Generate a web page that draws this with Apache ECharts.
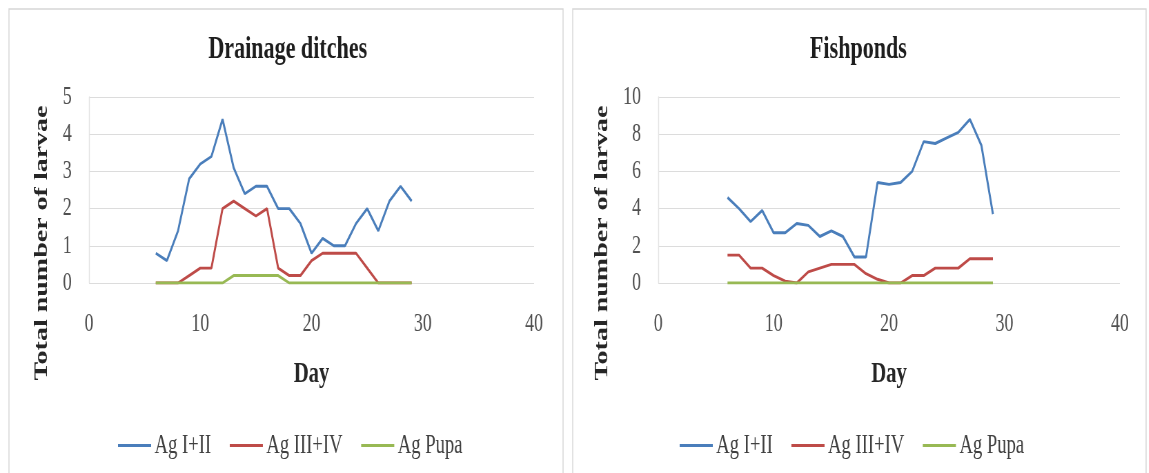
<!DOCTYPE html>
<html>
<head>
<meta charset="utf-8">
<script src="https://cdn.jsdelivr.net/npm/echarts@6/dist/echarts.min.js"></script>
<style>
  html, body { margin: 0; padding: 0; background: #ffffff; overflow: hidden; }
  #chart { width: 1665px; height: 473px; transform: scaleX(0.69); transform-origin: 0 0; }
</style>
</head>
<body>
<div id="chart"></div>
<script>
// Sampling days shared by both habitats
const days = [6, 7, 8, 9, 10, 11, 12, 13, 14, 15, 16, 17, 18, 19, 20, 21, 22, 23, 24, 25, 26, 27, 28, 29];

// Drainage ditches
const ditchEarly = [0.8, 0.6, 1.4, 2.8, 3.2, 3.4, 4.4, 3.1, 2.4, 2.6, 2.6, 2.0, 2.0, 1.6, 0.8, 1.2, 1.0, 1.0, 1.6, 2.0, 1.4, 2.2, 2.6, 2.2];
const ditchLate  = [0, 0, 0, 0.2, 0.4, 0.4, 2.0, 2.2, 2.0, 1.8, 2.0, 0.4, 0.2, 0.2, 0.6, 0.8, 0.8, 0.8, 0.8, 0.4, 0, 0, 0, 0];
const ditchPupa  = [0, 0, 0, 0, 0, 0, 0, 0.2, 0.2, 0.2, 0.2, 0.2, 0, 0, 0, 0, 0, 0, 0, 0, 0, 0, 0, 0];

// Fishponds
const pondEarly = [4.6, 4.0, 3.3, 3.9, 2.7, 2.7, 3.2, 3.1, 2.5, 2.8, 2.5, 1.4, 1.4, 5.4, 5.3, 5.4, 6.0, 7.6, 7.5, 7.8, 8.1, 8.8, 7.4, 3.7];
const pondLate  = [1.5, 1.5, 0.8, 0.8, 0.4, 0.1, 0, 0.6, 0.8, 1.0, 1.0, 1.0, 0.5, 0.2, 0, 0, 0.4, 0.4, 0.8, 0.8, 0.8, 1.3, 1.3, 1.3];
const pondPupa  = [0, 0, 0, 0, 0, 0, 0, 0, 0, 0, 0, 0, 0, 0, 0, 0, 0, 0, 0, 0, 0, 0, 0, 0];

const seriesNames = ['Ag I+II', 'Ag III+IV', 'Ag Pupa'];
const panelTitles = ['Drainage ditches', 'Fishponds'];
const xRange = { min: 0, max: 40, interval: 10 };
const ditchRange = { min: 0, max: 5, interval: 1 };
const pondRange = { min: 0, max: 10, interval: 2 };

const COLORS = ['#4a7ebb', '#be4b48', '#98b954'];
const FONT = '"Liberation Serif", "Times New Roman", serif';

function pairs(xs, ys) { return xs.map((x, i) => [x, ys[i]]); }

function lineSeries(name, idx, values, color) {
  return {
    name: name, type: 'line', xAxisIndex: idx, yAxisIndex: idx,
    data: pairs(days, values), symbol: 'none', showSymbol: false,
    lineStyle: { width: 2.9, color: color }, itemStyle: { color: color },
    emphasis: { disabled: true }
  };
}

function xAxis(idx) {
  return {
    type: 'value', gridIndex: idx, min: xRange.min, max: xRange.max, interval: xRange.interval,
    name: 'Day', nameLocation: 'middle', nameGap: 76,
    nameTextStyle: { fontFamily: FONT, fontSize: 30, fontWeight: 'bold', color: '#262626' },
    axisLine: { show: false }, axisTick: { show: false }, splitLine: { show: false },
    axisLabel: { fontFamily: FONT, fontSize: 26, color: '#505050', margin: 28 }
  };
}

function yAxis(idx, range, gap) {
  return {
    type: 'value', gridIndex: idx, min: range.min, max: range.max, interval: range.interval,
    name: 'Total number of larvae', nameLocation: 'middle', nameGap: gap,
    // right padding pushes the rotated title down, below the plot's middle
    nameTextStyle: { fontFamily: FONT, fontSize: 28, fontWeight: 'bold', color: '#262626',
                     padding: [0, 106, 0, 0] },
    axisLine: { show: true, lineStyle: { color: '#e3e3e3', width: 1.4 } },
    axisTick: { show: false },
    splitLine: { show: true, lineStyle: { color: '#dcdcdc', width: 1.2 } },
    axisLabel: { fontFamily: FONT, fontSize: 26, color: '#505050', margin: 25 }
  };
}

function legend(left) {
  return {
    data: seriesNames, left: left, top: 427, icon: 'rect', itemWidth: 48, itemHeight: 3,
    itemGap: 27, selectedMode: false,
    textStyle: { fontFamily: FONT, fontSize: 27, color: '#404040' }
  };
}

const chart = echarts.init(document.getElementById('chart'), null, { renderer: 'canvas' });
chart.setOption({
  animation: false,
  backgroundColor: '#ffffff',
  title: [
    { text: panelTitles[0], left: 412, top: 29, textAlign: 'center',
      textStyle: { fontFamily: FONT, fontSize: 32, fontWeight: 'bold', color: '#1e1e1e' } },
    { text: panelTitles[1], left: 1239, top: 29, textAlign: 'center',
      textStyle: { fontFamily: FONT, fontSize: 32, fontWeight: 'bold', color: '#1e1e1e' } }
  ],
  graphic: [
    { type: 'rect', shape: { x: 13, y: 9, width: 803, height: 480 }, silent: true,
      style: { fill: 'none', stroke: '#d6d6d6', lineWidth: 1.4 } },
    { type: 'rect', shape: { x: 830, y: 9, width: 831, height: 480 }, silent: true,
      style: { fill: 'none', stroke: '#d6d6d6', lineWidth: 1.4 } }
  ],
  legend: [legend(166), legend(980)],
  grid: [
    { left: 129, top: 97, width: 645, height: 186 },
    { left: 954, top: 97, width: 669, height: 186 }
  ],
  xAxis: [xAxis(0), xAxis(1)],
  yAxis: [yAxis(0, ditchRange, 54), yAxis(1, pondRange, 67)],
  series: [
    lineSeries(seriesNames[0], 0, ditchEarly, COLORS[0]),
    lineSeries(seriesNames[1], 0, ditchLate, COLORS[1]),
    lineSeries(seriesNames[2], 0, ditchPupa, COLORS[2]),
    lineSeries(seriesNames[0], 1, pondEarly, COLORS[0]),
    lineSeries(seriesNames[1], 1, pondLate, COLORS[1]),
    lineSeries(seriesNames[2], 1, pondPupa, COLORS[2])
  ]
});
</script>
</body>
</html>
